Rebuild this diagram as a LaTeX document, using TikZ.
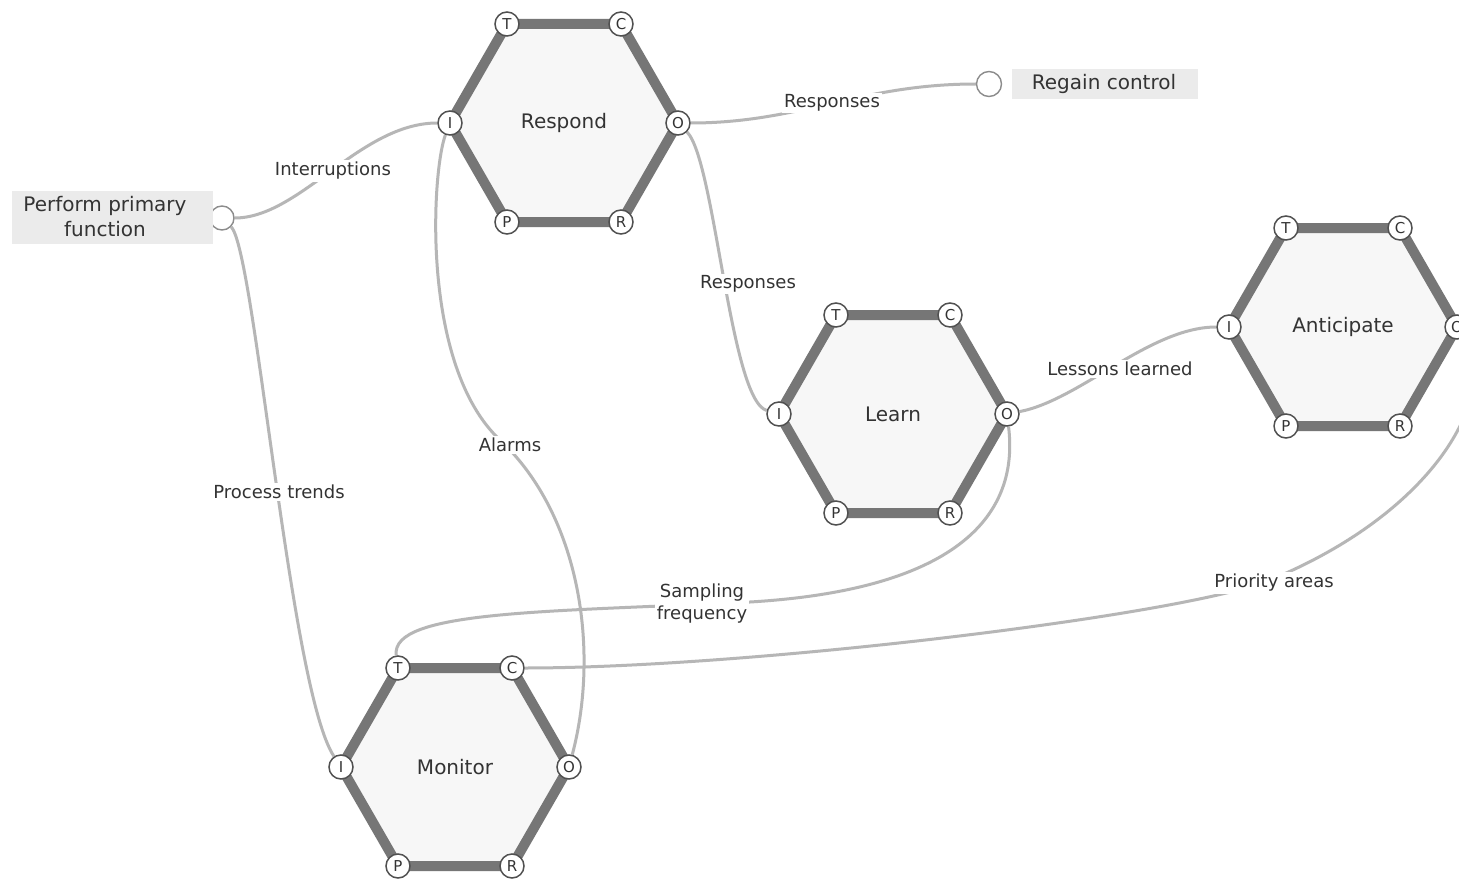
\documentclass[tikz,border=0pt]{standalone}
\usepackage{fontspec}
\setmainfont{DejaVu Sans}
\pgfdeclarelayer{paper}
\pgfdeclarelayer{conn}
\pgfdeclarelayer{hexl}
\pgfsetlayers{paper,conn,hexl,main}
\definecolor{conncol}{HTML}{B6B6B6}
\definecolor{edgecol}{HTML}{767676}
\definecolor{hexfill}{HTML}{F7F7F7}
\definecolor{portline}{HTML}{505050}
\definecolor{txt}{HTML}{333333}
\definecolor{boxfill}{HTML}{EBEBEB}
\definecolor{openport}{HTML}{8C8C8C}
\tikzset{
  port/.style={circle, draw=portline, line width=1.5pt, fill=white, minimum size=24pt, inner sep=0pt, font=\fontsize{15}{15}\selectfont, text=txt},
  openportst/.style={circle, draw=openport, line width=1.4pt, fill=white, minimum size=24pt, inner sep=0pt},
  conn/.style={draw=conncol, line width=3pt},
  lbl/.style={fill=white, inner sep=2pt, text=txt, font=\fontsize{18}{22}\selectfont, align=center},
  hexlbl/.style={text=txt, font=\fontsize{20}{22}\selectfont},
  hexedge/.style={draw=edgecol, line width=10pt, line join=round, fill=hexfill},
  endbox/.style={fill=boxfill, inner sep=0pt},
  endtext/.style={text=txt, font=\fontsize{20}{25}\selectfont, align=center, inner sep=0pt},
}
\newcommand\framhex[4]{%
  \node[port] (#1I) at (#2-114,#3) {I};
  \node[port] (#1O) at (#2+114,#3) {O};
  \node[port] (#1T) at (#2-57,#3-99) {T};
  \node[port] (#1C) at (#2+57,#3-99) {C};
  \node[port] (#1P) at (#2-57,#3+99) {P};
  \node[port] (#1R) at (#2+57,#3+99) {R};
  \node[hexlbl] (#1L) at (#2,#3) {#4};
  \begin{pgfonlayer}{hexl}
    \path[hexedge] (#1I.center) -- (#1T.center) -- (#1C.center) -- (#1O.center) -- (#1R.center) -- (#1P.center) -- cycle;
  \end{pgfonlayer}%
}
\begin{document}
\begin{tikzpicture}[x=1pt,y=-1pt]
\useasboundingbox (0,0) rectangle (1459,880);
\begin{pgfonlayer}{paper}
  \fill[white] (0,0) rectangle (1459,880);
\end{pgfonlayer}

% functions
\framhex{r}{564}{123}{Respond}
\framhex{l}{893}{414}{Learn}
\framhex{a}{1343}{327}{Anticipate}
\framhex{m}{455}{767}{Monitor}

% end points
\node[openportst] (pfO) at (222,218) {};
\node[endbox, minimum width=201pt, minimum height=53pt] (pfbox) at (112.5,217.5) {};
\node[endtext] (pftext) at (105,217) {Perform primary\\function};
\node[openportst, minimum size=25pt] (rgI) at (989,84) {};
\node[endbox, minimum width=186pt, minimum height=30pt] (rgbox) at (1105,84) {};
\node[endtext] (rgtext) at (1104,84) {Regain control};

% via points
\coordinate (almid) at (500,440);
\coordinate (sfmid) at (750,602);
\coordinate (pamid) at (1270,580);

\begin{pgfonlayer}{conn}
  \draw[conn] (pfO) .. controls (300,218) and (360,123) .. (rI);
  \draw[conn] (pfO) .. controls (255,250) and (290,690) .. (mI);
  \draw[conn] (rO) .. controls (800,123) and (860,84) .. (rgI);
  \draw[conn] (rO) .. controls (715,160) and (730,400) .. (lI);
  \draw[conn] (rI) .. controls (432,170) and (420,365) .. (almid) .. controls (580,515) and (600,650) .. (mO);
  \draw[conn] (lO) .. controls (1080,400) and (1150,327) .. (aI);
  \draw[conn] (lO) .. controls (1020,520) and (950,590) .. (sfmid) .. controls (550,612) and (390,610) .. (mT);
  \draw[conn] (aO) .. controls (1500,390) and (1440,510) .. (pamid) .. controls (1185,615) and (750,668) .. (mC);
\end{pgfonlayer}

% connector labels
\node[lbl] (lbInt) at (333,171) {Interruptions};
\node[lbl] (lbPT) at (279,492) {Process trends};
\node[lbl] (lbR1) at (832,103) {Responses};
\node[lbl] (lbR2) at (748,284) {Responses};
\node[lbl] (lbAl) at (510,445) {Alarms};
\node[lbl] (lbLL) at (1120,369) {Lessons learned};
\node[lbl] (lbSF) at (702,604) {Sampling\\frequency};
\node[lbl] (lbPA) at (1274,583) {Priority areas};
\end{tikzpicture}
\end{document}
